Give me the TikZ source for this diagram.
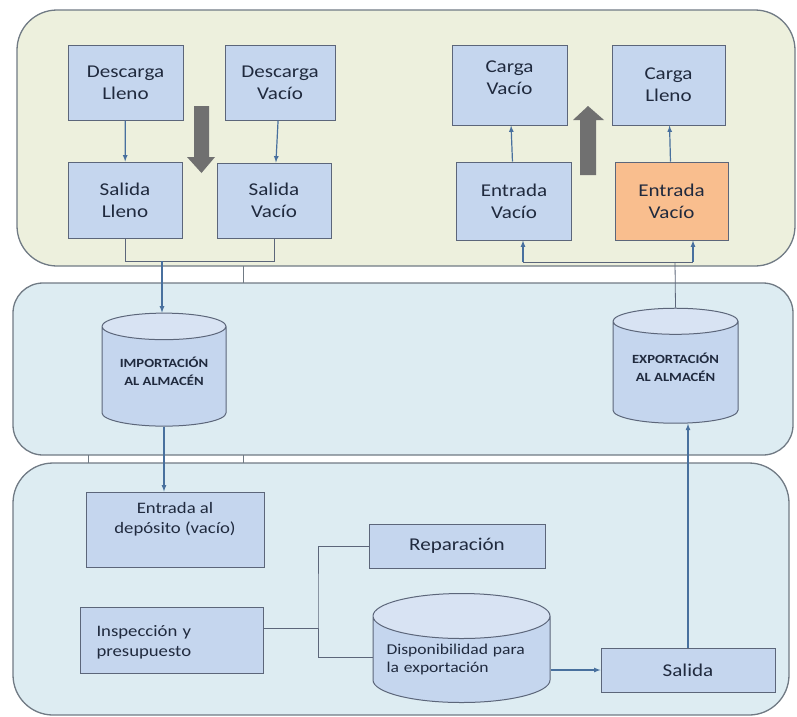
\documentclass[tikz,border=0pt]{standalone}
\usepackage{fontspec}
\setmainfont{Carlito}[FakeStretch=1.17]
\usetikzlibrary{shapes.geometric}
\definecolor{topfill}{RGB}{237,240,221}
\definecolor{lanefill}{RGB}{221,236,242}
\definecolor{laneline}{RGB}{112,122,132}
\definecolor{boxfill}{RGB}{197,214,238}
\definecolor{endfill}{RGB}{216,227,243}
\definecolor{boxline}{RGB}{92,102,122}
\definecolor{orangefill}{RGB}{249,190,142}
\definecolor{flowline}{RGB}{72,112,158}
\definecolor{grayarrow}{RGB}{112,112,112}
\definecolor{txt}{RGB}{32,42,62}
\tikzset{
  lane/.style={draw=laneline, line width=1.3pt, rounded corners=#1},
  lane/.default=40,
  box/.style={draw=boxline, fill=boxfill, line width=1pt, text=txt, align=center,
    inner sep=0pt, font=\fontsize{18}{22}\selectfont},
  store/.style={cylinder, shape border rotate=90, aspect=0.3, draw=boxline,
    line width=1pt, cylinder uses custom fill, cylinder body fill=boxfill,
    cylinder end fill=endfill, text=txt, inner sep=0pt},
  caps/.style={font=\bfseries\fontsize{12.5}{18}\selectfont, align=center, text depth=10pt},
  flow/.style={->, draw=flowline, line width=1.2pt},
  link/.style={draw=boxline, line width=0.8pt},
  bigarrow/.style={fill=grayarrow, draw=none}
}
\begin{document}
\begin{tikzpicture}[x=1pt,y=-1pt,>=latex]
\useasboundingbox (0,0) rectangle (797,716);
% lanes
\draw[lane, fill=topfill] (17,10) rectangle (795,266);
\draw[lane=30, fill=lanefill] (13,283) rectangle (793,455);
\draw[lane, fill=lanefill] (13,463) rectangle (789,715);
\draw[laneline, line width=1pt] (243,266)--(243,283) (243,455)--(243,463) (88,455)--(88,463);

% top lane
\node[box, minimum width=115, minimum height=75] (dll) at (125.5,82.5) {Descarga\\Lleno};
\node[box, minimum width=110, minimum height=75] (dvc) at (280,82.5) {Descarga\\Vacío};
\node[box, minimum width=114, minimum height=76] (sll) at (125,200) {Salida\\Lleno};
\node[box, minimum width=114, minimum height=75] (svc) at (274,200.5) {Salida\\Vacío};
\node[box, minimum width=115, minimum height=80, text depth=14pt] (cvc) at (509.5,85) {Carga\\Vacío};
\node[box, minimum width=113, minimum height=80] (cll) at (668.5,85) {Carga\\Lleno};
\node[box, minimum width=115, minimum height=78] (evb) at (514,201) {Entrada\\Vacío};
\node[box, fill=orangefill, minimum width=113, minimum height=78] (evo) at (671.5,201) {Entrada\\Vacío};
\fill[bigarrow] (194,106)--(209,106)--(209,157)--(215,157)--(201.5,173)--(187,157)--(194,157)--cycle;
\fill[bigarrow] (580,175)--(596,175)--(596,120)--(604,120)--(588,106)--(573,120)--(580,120)--cycle;
\draw[flow] (dll) -- (sll);
\draw[flow] (dvc) -- (svc);
\draw[flow] (evb) -- (cvc);
\draw[flow] (evo) -- (cll);

% middle lane
\node[store, caps, minimum width=124, minimum height=113] (imp) at (164,376.5) {IMPORTACIÓN\\AL ALMACÉN};
\node[store, caps, minimum width=125, minimum height=115] (exp) at (675.5,372.5) {EXPORTACIÓN\\AL ALMACÉN};
\coordinate (jl) at (162,261);
\coordinate (jr) at (523,262);
\coordinate (jo) at (693,262);
\coordinate (jx) at (675,262);
\draw[link] (sll.south) |- (jl) -| (svc.south);
\draw[link] (sll.south |- jl) -- (svc.south |- jl);
\draw[flow] (jl) -- (jl |- imp.top);
\draw[flow] (jr) -- (jr |- evb.south);
\draw[flow] (jo) -- (jo |- evo.south);
\draw[link] (jr) -- (jo);
\draw[link] (jx) -- (exp.top);

% bottom lane
\node[box, minimum width=178, minimum height=75, text depth=24pt, font=\fontsize{16}{20}\selectfont] (edp) at (175,529.5) {Entrada al\\depósito (vacío)};
\node[box, minimum width=183, minimum height=66, text width=150, align=left, text depth=18pt, font=\fontsize{16}{20}\selectfont] (insp) at (171.5,640) {Inspección y\\presupuesto};
\node[box, minimum width=176, minimum height=44] (rep) at (457,546) {Reparación};
\node[store, minimum width=177, minimum height=109, text width=150, align=left, font=\fontsize{15}{18}\selectfont] (disp) at (461.5,659.5) {Disponibilidad para\\la exportación};
\node[box, minimum width=174, minimum height=44] (sal) at (688,670) {Salida};
\coordinate (bus) at (318,600);
\draw[flow] (imp.bottom) -- (imp.bottom |- edp.north);
\draw[link] ([yshift=12pt]insp.east) -- ([yshift=12pt]insp.east -| bus);
\draw[link] (rep.west) -| (bus) |- ([yshift=2pt]disp.west);
\draw[flow] (sal.west -| disp.east) -- (sal.west);
\draw[flow] (sal.north) -- (sal.north |- exp.bottom);
\end{tikzpicture}
\end{document}
